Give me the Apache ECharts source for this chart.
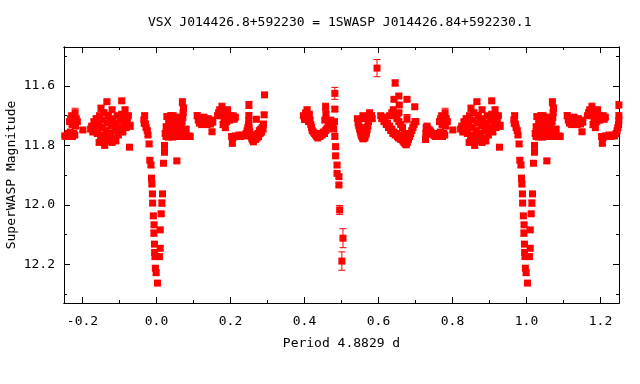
<!DOCTYPE html>
<html>
<head>
<meta charset="utf-8">
<script src="https://cdn.jsdelivr.net/npm/echarts@6/dist/echarts.min.js"></script>
<style>html,body{margin:0;padding:0;background:#fff}#c{width:640px;height:384px}</style>
</head>
<body>
<div id="c"></div>
<script>
// Base phase-folded data (phase in [0,1)), magnitude, error
const phase = [
 0.966,0.967,0.968,0.970,0.972,0.975,0.977,0.980,0.982,0.985,0.9865,0.9875,0.989,0.9895,0.9915,0.9935,0.993,0.9945,0.995,0.996,0.997,0.999,
 0.0027,0.008,0.010,0.010,0.0127,0.0146,0.0162,0.0189,0.0216,0.0216,0.0235,0.0262,0.0281,
 0.026,0.029,0.032,0.035,0.038,0.041,0.044,0.047,0.050,0.053,0.056,0.060,0.064,0.068,0.072,0.076,0.080,0.084,0.088,0.091,
 0.030,0.033,0.036,0.039,0.042,0.045,0.048,0.051,0.054,0.057,0.045,0.050,0.055,0.062,0.066,0.069,0.071,0.072,0.073,0.070,0.074,0.078,0.080,0.055,
 0.110,0.113,0.116,0.119,0.122,0.125,0.128,0.131,0.134,0.137,0.140,0.143,0.146,0.149,0.152,0.150,
 0.165,0.168,0.171,0.174,0.177,0.180,0.183,0.186,0.189,0.192,0.195,0.198,0.201,0.204,0.207,0.210,0.213,0.180,0.186,0.190,
 0.205,0.203,0.208,0.213,0.218,0.223,0.228,0.233,0.238,0.242,0.245,0.247,0.249,0.2495,0.2497,0.2498,
 0.250,0.252,0.254,0.256,0.258,0.260,0.262,0.264,0.266,0.268,0.270,0.272,0.274,0.276,0.278,0.280,0.282,0.284,0.286,0.289,0.270,0.291,0.292,0.288,
 0.397,0.400,0.403,0.405,0.407,0.409,0.411,0.413,0.415,0.417,0.419,0.421,0.424,0.427,0.430,0.433,0.436,0.439,0.442,0.445,0.448,0.451,0.454,0.457,0.460,0.463,0.466,0.469,0.471,0.457,0.458,0.455,0.474,0.476,0.479,
 0.482,0.482,0.481,0.482,0.484,0.484,0.488,0.488,0.493,0.493,0.495,0.504,0.501,
 0.543,0.545,0.547,0.549,0.551,0.553,0.555,0.557,0.559,0.561,0.563,0.565,0.567,0.569,0.571,0.573,0.575,0.577,0.579,0.581,0.583,0.558,0.560,0.576,0.566,0.596,
 0.606,0.609,0.612,0.615,0.618,0.621,0.624,0.627,0.630,0.633,0.636,0.639,0.642,0.645,0.648,0.651,0.654,0.657,0.660,0.663,0.666,0.669,0.672,0.675,0.678,0.681,0.684,0.687,0.690,0.693,0.696,0.699,
 0.630,0.636,0.640,0.645,0.650,0.655,0.642,0.645,0.655,0.656,0.655,0.677,0.677,0.698,0.701,0.665,0.670,0.660,
 0.727,0.728,0.729,0.731,0.734,0.737,0.740,0.743,0.746,0.749,0.752,0.755,0.758,0.761,0.764,0.767,0.770,0.773,0.776,0.779,
 0.765,0.768,0.771,0.774,0.777,0.780,0.783,0.786,0.772,0.781,0.801,
 0.822,0.825,0.828,0.831,0.834,0.837,0.840,0.843,0.846,0.849,0.852,0.855,0.858,0.861,0.864,0.867,0.870,0.873,0.876,0.879,0.882,0.885,0.888,0.891,0.894,0.897,0.900,0.903,0.906,0.909,0.912,0.915,0.918,0.921,0.924,
 0.866,0.906,0.929,0.927,0.845,0.860,0.870,0.880,0.890,0.855,0.875,0.895,0.850,0.880,0.915
];
const mag = [
 11.714,11.725,11.700,11.728,11.740,11.750,11.765,11.795,11.850,11.866,11.910,11.930,11.963,11.994,12.037,12.067,12.095,12.132,12.160,12.174,12.213,12.228,
 12.263,12.174,12.146,12.084,12.030,11.994,11.963,11.860,11.823,11.800,11.760,11.737,11.703,
 11.770,11.765,11.772,11.768,11.770,11.765,11.772,11.768,11.770,11.766,11.770,11.765,11.768,11.770,11.766,11.770,11.768,11.770,11.768,11.770,
 11.745,11.725,11.712,11.700,11.705,11.700,11.710,11.718,11.705,11.720,11.745,11.740,11.750,11.745,11.735,11.720,11.705,11.690,11.675,11.655,11.750,11.755,11.745,11.852,
 11.700,11.715,11.725,11.710,11.730,11.720,11.705,11.725,11.715,11.730,11.710,11.720,11.728,11.715,11.722,11.754,
 11.700,11.690,11.680,11.700,11.670,11.690,11.710,11.685,11.700,11.680,11.705,11.715,11.700,11.710,11.700,11.712,11.705,11.730,11.740,11.720,
 11.793,11.770,11.772,11.768,11.770,11.765,11.770,11.766,11.768,11.760,11.750,11.740,11.730,11.715,11.700,11.664,
 11.740,11.752,11.765,11.770,11.778,11.782,11.788,11.775,11.770,11.780,11.765,11.775,11.760,11.770,11.750,11.760,11.745,11.755,11.740,11.728,11.712,11.697,11.630,11.745,
 11.700,11.712,11.690,11.710,11.680,11.700,11.720,11.695,11.715,11.730,11.740,11.750,11.755,11.760,11.765,11.770,11.775,11.765,11.770,11.760,11.765,11.755,11.760,11.750,11.745,11.740,11.735,11.725,11.715,11.670,11.694,11.715,11.725,11.735,11.745,
 11.625,11.678,11.720,11.770,11.804,11.835,11.866,11.894,11.905,11.933,12.017,12.112,12.189,
 11.710,11.725,11.735,11.745,11.755,11.765,11.770,11.775,11.778,11.772,11.775,11.765,11.760,11.748,11.735,11.720,11.710,11.700,11.705,11.700,11.710,11.700,11.710,11.690,11.740,11.540,
 11.700,11.710,11.705,11.720,11.715,11.730,11.725,11.740,11.735,11.750,11.745,11.760,11.755,11.765,11.760,11.770,11.775,11.765,11.780,11.775,11.785,11.790,11.795,11.798,11.790,11.780,11.770,11.760,11.750,11.740,11.730,11.720,
 11.700,11.690,11.680,11.700,11.710,11.720,11.645,11.590,11.634,11.664,11.690,11.645,11.710,11.670,11.720,11.740,11.760,11.730,
 11.780,11.760,11.740,11.735,11.745,11.748,11.752,11.758,11.762,11.765,11.768,11.770,11.768,11.760,11.770,11.755,11.765,11.770,11.760,11.765,
 11.720,11.710,11.700,11.715,11.705,11.690,11.710,11.720,11.730,11.735,11.748,
 11.745,11.735,11.755,11.720,11.745,11.710,11.760,11.730,11.700,11.770,11.740,11.715,11.690,11.780,11.750,11.725,11.700,11.785,11.760,11.735,11.710,11.775,11.750,11.725,11.700,11.765,11.740,11.715,11.695,11.755,11.730,11.705,11.740,11.715,11.700,
 11.653,11.650,11.734,11.806,11.790,11.800,11.770,11.790,11.785,11.765,11.720,11.745,11.675,11.680,11.680
];
const magErr = [
 0.006,0.010,0.008,0.005,0.005,0.006,0.005,0.008,0.006,0.008,0.007,0.006,0.006,0.006,0.008,0.006,0.010,0.006,0.008,0.006,0.006,0.008,
 0.006,0.008,0.006,0.006,0.006,0.010,0.008,0.006,0.006,0.006,0.008,0.006,0.008,
 0.006,0.006,0.007,0.006,0.005,0.006,0.008,0.006,0.005,0.006,0.006,0.006,0.006,0.006,0.005,0.006,0.005,0.005,0.005,0.005,
 0.006,0.006,0.008,0.010,0.008,0.006,0.012,0.006,0.008,0.006,0.006,0.006,0.006,0.006,0.006,0.006,0.010,0.008,0.010,0.012,0.006,0.006,0.006,0.006,
 0.010,0.006,0.006,0.006,0.006,0.006,0.008,0.006,0.006,0.006,0.006,0.006,0.006,0.006,0.006,0.006,
 0.006,0.008,0.006,0.006,0.012,0.006,0.006,0.006,0.006,0.008,0.006,0.006,0.006,0.006,0.006,0.006,0.006,0.010,0.010,0.006,
 0.006,0.006,0.005,0.006,0.005,0.006,0.005,0.005,0.005,0.006,0.006,0.006,0.006,0.006,0.010,0.012,
 0.006,0.006,0.006,0.006,0.006,0.006,0.006,0.006,0.006,0.006,0.006,0.006,0.006,0.006,0.006,0.006,0.006,0.006,0.006,0.006,0.006,0.008,0.006,0.006,
 0.006,0.010,0.006,0.006,0.008,0.006,0.006,0.006,0.006,0.006,0.006,0.006,0.006,0.006,0.006,0.006,0.006,0.006,0.006,0.006,0.006,0.006,0.006,0.006,0.006,0.006,0.006,0.006,0.006,0.012,0.006,0.006,0.006,0.006,0.006,
 0.020,0.008,0.006,0.006,0.006,0.006,0.006,0.006,0.006,0.006,0.015,0.032,0.031,
 0.006,0.006,0.006,0.006,0.006,0.006,0.006,0.006,0.006,0.006,0.006,0.006,0.006,0.006,0.006,0.006,0.006,0.006,0.006,0.006,0.006,0.006,0.006,0.006,0.006,0.029,
 0.006,0.006,0.006,0.006,0.006,0.006,0.006,0.006,0.006,0.006,0.006,0.006,0.006,0.006,0.006,0.006,0.006,0.006,0.006,0.006,0.006,0.006,0.006,0.006,0.006,0.006,0.006,0.006,0.006,0.006,0.006,0.006,
 0.006,0.006,0.008,0.006,0.006,0.006,0.006,0.010,0.006,0.006,0.006,0.006,0.014,0.006,0.006,0.006,0.006,0.006,
 0.010,0.006,0.006,0.006,0.006,0.006,0.006,0.006,0.006,0.006,0.006,0.006,0.006,0.006,0.006,0.006,0.006,0.006,0.006,0.006,
 0.006,0.006,0.006,0.006,0.006,0.015,0.006,0.006,0.006,0.006,0.006,
 0.006,0.006,0.006,0.006,0.006,0.008,0.006,0.006,0.006,0.006,0.006,0.006,0.008,0.006,0.006,0.006,0.010,0.006,0.006,0.006,0.006,0.006,0.006,0.006,0.006,0.006,0.006,0.006,0.006,0.006,0.006,0.006,0.006,0.006,0.006,
 0.006,0.006,0.012,0.006,0.006,0.006,0.006,0.006,0.006,0.006,0.006,0.006,0.010,0.008,0.008
];

const xMajorTicks = [-0.2, 0.0, 0.2, 0.4, 0.6, 0.8, 1.0, 1.2];
const xMinorTicks = [-0.1, 0.1, 0.3, 0.5, 0.7, 0.9, 1.1];
const yMajorTicks = [11.6, 11.8, 12.0, 12.2];
const yMinorTicks = [11.5, 11.7, 11.9, 12.1, 12.3];

const titleText = 'VSX J014426.8+592230 = 1SWASP J014426.84+592230.1';
const xName = 'Period 4.8829 d';
const yName = 'SuperWASP Magnitude';

// build plotted points: base plus folded copies (phase-1, phase+1)
const pts = [];
for (let i = 0; i < phase.length; i++) {
  const p = phase[i], m = mag[i], e = magErr[i];
  pts.push([p, m, e]);
  if (p >= 0.75) pts.push([p - 1, m, e]);
  if (p < 0.25) pts.push([p + 1, m, e]);
}

const FONT = 'DejaVu Sans Mono';
const RED = '#ff0000';
const XMIN = -0.25, XMAX = 1.25, YMIN = 11.469, YMAX = 12.33;

function xAx(pos, ticks, len, labels, extra) {
  return Object.assign({
    type: 'value', min: XMIN, max: XMAX, position: pos,
    axisLine: { show: true, onZero: false, lineStyle: { color: '#000', width: 1 } },
    axisTick: { show: true, inside: true, length: len, customValues: ticks, lineStyle: { color: '#000', width: 1 } },
    axisLabel: labels ? { show: true, customValues: ticks, formatter: v => v.toFixed(1), color: '#000', fontFamily: FONT, fontSize: 13, margin: 12 } : { show: false },
    splitLine: { show: false }
  }, extra || {});
}
function yAx(pos, ticks, len, labels, extra) {
  return Object.assign({
    type: 'value', min: YMIN, max: YMAX, inverse: true, position: pos,
    axisLine: { show: true, onZero: false, lineStyle: { color: '#000', width: 1 } },
    axisTick: { show: true, inside: true, length: len, customValues: ticks, lineStyle: { color: '#000', width: 1 } },
    axisLabel: labels ? { show: true, customValues: ticks, formatter: v => v.toFixed(1), color: '#000', fontFamily: FONT, fontSize: 13, margin: 9 } : { show: false },
    splitLine: { show: false }
  }, extra || {});
}

const chart = echarts.init(document.getElementById('c'), null, { renderer: 'canvas' });
chart.setOption({
  animation: false,
  backgroundColor: '#fff',
  title: { text: titleText, left: 143, top: 11, textStyle: { fontFamily: FONT, fontSize: 13, fontWeight: 'normal', color: '#000' } },
  grid: { left: 64, right: 21, top: 47, bottom: 81, containLabel: false, outerBoundsMode: 'none' },
  xAxis: [
    xAx('bottom', xMajorTicks, 6, true, { name: xName, nameLocation: 'middle', nameGap: 34, nameMoveOverlap: false, nameTextStyle: { fontFamily: FONT, fontSize: 13, color: '#000' } }),
    xAx('bottom', xMinorTicks, 3, false),
    xAx('top', xMajorTicks, 6, false),
    xAx('top', xMinorTicks, 3, false)
  ],
  yAxis: [
    yAx('left', yMajorTicks, 6, true, { name: yName, nameLocation: 'middle', nameGap: 46, nameRotate: 90, nameMoveOverlap: false, nameTextStyle: { fontFamily: FONT, fontSize: 13, color: '#000' } }),
    yAx('left', yMinorTicks, 3, false),
    yAx('right', yMajorTicks, 6, false),
    yAx('right', yMinorTicks, 3, false)
  ],
  series: [
    {
      type: 'custom', xAxisIndex: 0, yAxisIndex: 0, data: pts, encode: { x: 0, y: 1 }, clip: true, z: 2,
      renderItem: function (params, api) {
        const x = api.value(0), y = api.value(1), e = api.value(2);
        const lo = api.coord([x, y - e]), hi = api.coord([x, y + e]);
        const cw = 3.5, st = { stroke: RED, lineWidth: 1 };
        return { type: 'group', children: [
          { type: 'line', shape: { x1: lo[0], y1: lo[1], x2: hi[0], y2: hi[1] }, style: st },
          { type: 'line', shape: { x1: lo[0] - cw, y1: lo[1], x2: lo[0] + cw, y2: lo[1] }, style: st },
          { type: 'line', shape: { x1: hi[0] - cw, y1: hi[1], x2: hi[0] + cw, y2: hi[1] }, style: st }
        ] };
      }
    },
    {
      type: 'scatter', xAxisIndex: 0, yAxisIndex: 0, data: pts.map(d => [d[0], d[1]]),
      symbol: 'rect', symbolSize: 7, itemStyle: { color: RED, opacity: 1 }, z: 3, clip: true
    }
  ]
});
</script>
</body>
</html>
